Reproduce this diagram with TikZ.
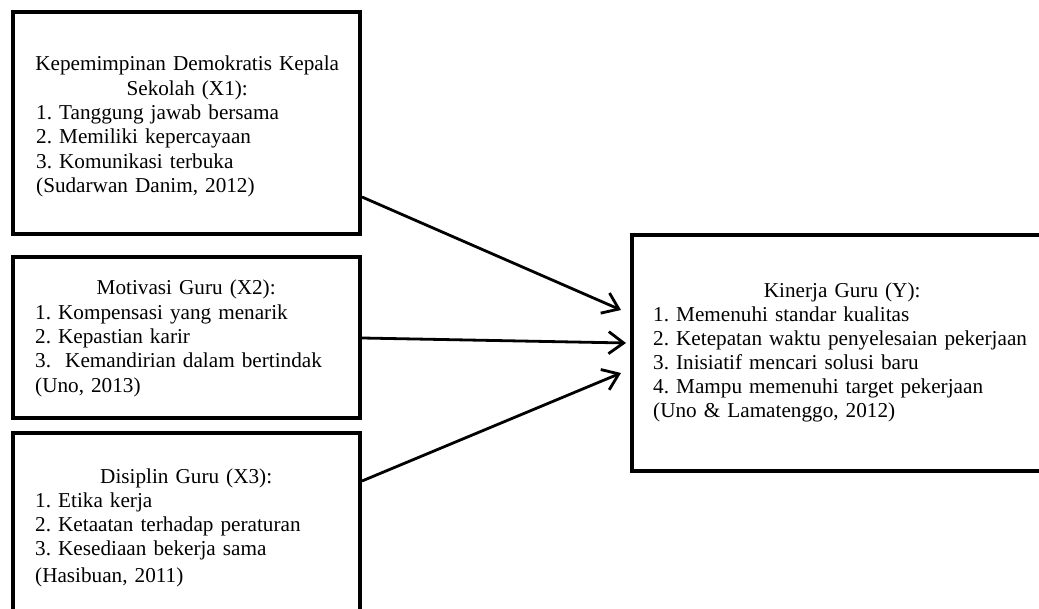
\documentclass[tikz,border=0pt]{standalone}
\usepackage{fontspec}
\setmainfont{Liberation Serif}
\usetikzlibrary{arrows.meta}
\frenchspacing
\tikzset{
  box/.style={draw=black, line width=4pt, rectangle, inner sep=0pt, fill=white},
  txt/.style={anchor=base west, inner sep=0pt, align=left, font=\frenchspacing\fontsize{21.2}{24.3}\selectfont},
  arr/.style={draw=black, line width=2.8pt, -{Straight Barb[length=15pt,width=22pt,line width=2.8pt]}}
}
\newcommand{\ctitle}[2]{\makebox[#1][c]{#2}}
\begin{document}
\begin{tikzpicture}[x=1pt,y=-1pt]
\useasboundingbox (0,0) rectangle (1039,609);
\clip (0,0) rectangle (1039,609);
\fill[white] (0,0) rectangle (1039,609);
% boxes
\node[box, minimum width=347pt, minimum height=222pt] (x1) at (186.5,123) {};
\node[box, minimum width=347pt, minimum height=161pt] (x2) at (186.5,337.5) {};
\node[box, minimum width=347pt, minimum height=220pt] (x3) at (186.5,543) {};
\node[box, minimum width=440pt, minimum height=236pt] (y) at (852,353) {};
% texts
\node[txt, text width=302pt] (t1) at (36,71) {\ctitle{302pt}{Kepemimpinan Demokratis Kepala}\\\ctitle{302pt}{Sekolah (X1):}\\1. Tanggung jawab bersama\\2. Memiliki kepercayaan\\3. Komunikasi terbuka\\(Sudarwan Danim, 2012)};
\node[txt, text width=302pt] (t2) at (35,295) {\ctitle{302pt}{Motivasi Guru (X2):}\\1. Kompensasi yang menarik\\2. Kepastian karir\\3.\ \ Kemandirian dalam bertindak\\(Uno, 2013)};
\node[txt, text width=302pt] (t3) at (35,483) {\ctitle{302pt}{Disiplin Guru (X3):}\\1. Etika kerja\\2. Ketaatan terhadap peraturan\\3. Kesediaan bekerja sama\\[2pt](Hasibuan, 2011)};
\node[txt, text width=378pt, font=\frenchspacing\fontsize{21.2}{24}\selectfont] (t4) at (653,298) {\ctitle{378pt}{Kinerja Guru (Y):}\\1. Memenuhi standar kualitas\\2. Ketepatan waktu penyelesaian pekerjaan\\3. Inisiatif mencari solusi baru\\4. Mampu memenuhi target pekerjaan\\(Uno \& Lamatenggo, 2012)};
% arrows
\draw[arr] ([yshift=39pt]x1.south east) -- ([xshift=-9pt,yshift=43pt]y.west);
\draw[arr] ([yshift=-0.5pt]x2.east) -- ([xshift=-4pt,yshift=10pt]y.west);
\draw[arr] ([yshift=-50pt]x3.north east) -- ([xshift=-9pt,yshift=-20pt]y.west);
\end{tikzpicture}
\end{document}
